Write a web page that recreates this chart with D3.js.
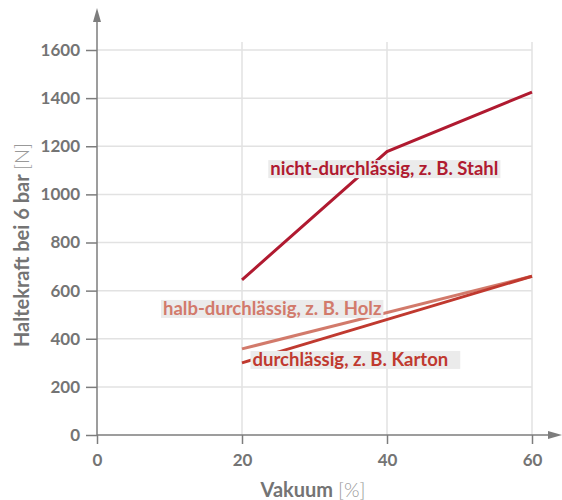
<!DOCTYPE html>
<html><head><meta charset="utf-8">
<script src="https://cdn.jsdelivr.net/npm/d3@7"></script>
<style>body{margin:0;background:#fff;} svg{display:block;} text{font-family:Lato,"Noto Sans",sans-serif;}</style>
</head><body>
<svg id="c" width="562" height="500"></svg>
<script>
const xTicks = [0, 20, 40, 60];
const yTicks = [0, 200, 400, 600, 800, 1000, 1200, 1400, 1600];
const seriesNames = ["nicht-durchlässig, z. B. Stahl", "halb-durchlässig, z. B. Holz", "durchlässig, z. B. Karton"];
const stahlX = [20, 40, 60];
const stahlY = [645, 1178, 1425];
const holzX = [20, 60];
const holzY = [358, 660];
const kartonX = [20, 60];
const kartonY = [300, 660];
const colors = ["#b01a30", "#d27a6b", "#c0392f"];
const labelPos = [[23.9, 1080], [9.1, 499], [21.45, 287]]; // data-space anchors for labels

const svg = d3.select("#c");
const x = d3.scaleLinear().domain([0, 60]).range([97, 532]);
const y = d3.scaleLinear().domain([0, 1600]).range([435, 50]);

// grid
svg.append("g").selectAll("line").data(yTicks.filter(d => d > 0)).join("line")
  .attr("x1", x(0)).attr("x2", x(60)).attr("y1", d => y(d)).attr("y2", d => y(d))
  .attr("stroke", "#e2e2e2").attr("stroke-width", 1.5);
svg.append("g").selectAll("line").data(xTicks.filter(d => d > 0)).join("line")
  .attr("x1", d => x(d)).attr("x2", d => x(d)).attr("y1", y(0)).attr("y2", 42)
  .attr("stroke", "#e2e2e2").attr("stroke-width", 1.5);

// axes
const axCol = "#7d7d7d";
const yAxis = svg.append("g").attr("transform", `translate(${x(0)},0)`)
  .call(d3.axisLeft(y).tickValues(yTicks).tickSize(11).tickPadding(6).tickFormat(d3.format("d")));
const xAxis = svg.append("g").attr("transform", `translate(0,${y(0)})`)
  .call(d3.axisBottom(x).tickValues(xTicks).tickSize(9).tickPadding(10));
[yAxis, xAxis].forEach(g => {
  g.select(".domain").remove();
  g.selectAll("line").attr("stroke", axCol).attr("stroke-width", 1.5);
  g.selectAll("text").attr("fill", "#747474").attr("font-size", 17).attr("font-weight", 700);
});
// axis lines with arrows
svg.append("line").attr("x1", x(0)).attr("x2", x(0)).attr("y1", y(0)).attr("y2", 14).attr("stroke", axCol).attr("stroke-width", 1.5);
svg.append("path").attr("d", `M${x(0)-4},22 L${x(0)},8 L${x(0)+4},22 Z`).attr("fill", axCol);
svg.append("line").attr("x1", x(0)).attr("x2", 555).attr("y1", y(0)).attr("y2", y(0)).attr("stroke", axCol).attr("stroke-width", 1.5);
svg.append("path").attr("d", `M548,${y(0)-4} L562,${y(0)} L548,${y(0)+4} Z`).attr("fill", axCol);

// axis titles
const yt = svg.append("text").attr("transform", `translate(29,245) rotate(-90)`).attr("text-anchor", "middle")
  .attr("font-size", 20).attr("fill", "#747474");
yt.append("tspan").attr("font-weight", 700).text("Haltekraft bei 6 bar ");
yt.append("tspan").attr("font-weight", 300).attr("fill", "#999").text("[N]");
const xt = svg.append("text").attr("x", 313).attr("y", 497).attr("text-anchor", "middle")
  .attr("font-size", 20).attr("fill", "#747474");
xt.append("tspan").attr("font-weight", 700).text("Vakuum ");
xt.append("tspan").attr("font-weight", 300).attr("fill", "#999").text("[%]");

// lines
const lineGen = d3.line().x(d => x(d[0])).y(d => y(d[1]));
const data = [d3.zip(stahlX, stahlY), d3.zip(holzX, holzY), d3.zip(kartonX, kartonY)];

function label(i) {
  const [lx, ly] = labelPos[i];
  const g = svg.append("g");
  const t = g.append("text").attr("x", x(lx)).attr("y", y(ly)).attr("font-size", 18.5).attr("font-weight", 700)
    .attr("fill", colors[i]).text(seriesNames[i]);
  const bb = t.node().getBBox();
  g.insert("rect", "text").attr("x", bb.x - 2).attr("y", y(ly) - 15).attr("width", bb.width + 4 + (i===2?10:0)).attr("height", 18)
    .attr("fill", "#ebebeb");
}
data.forEach((d, i) => {
  svg.append("path").datum(d).attr("d", lineGen).attr("fill", "none").attr("stroke", colors[i]).attr("stroke-width", 3);
});
label(0); label(1); label(2);
</script>
</body></html>
